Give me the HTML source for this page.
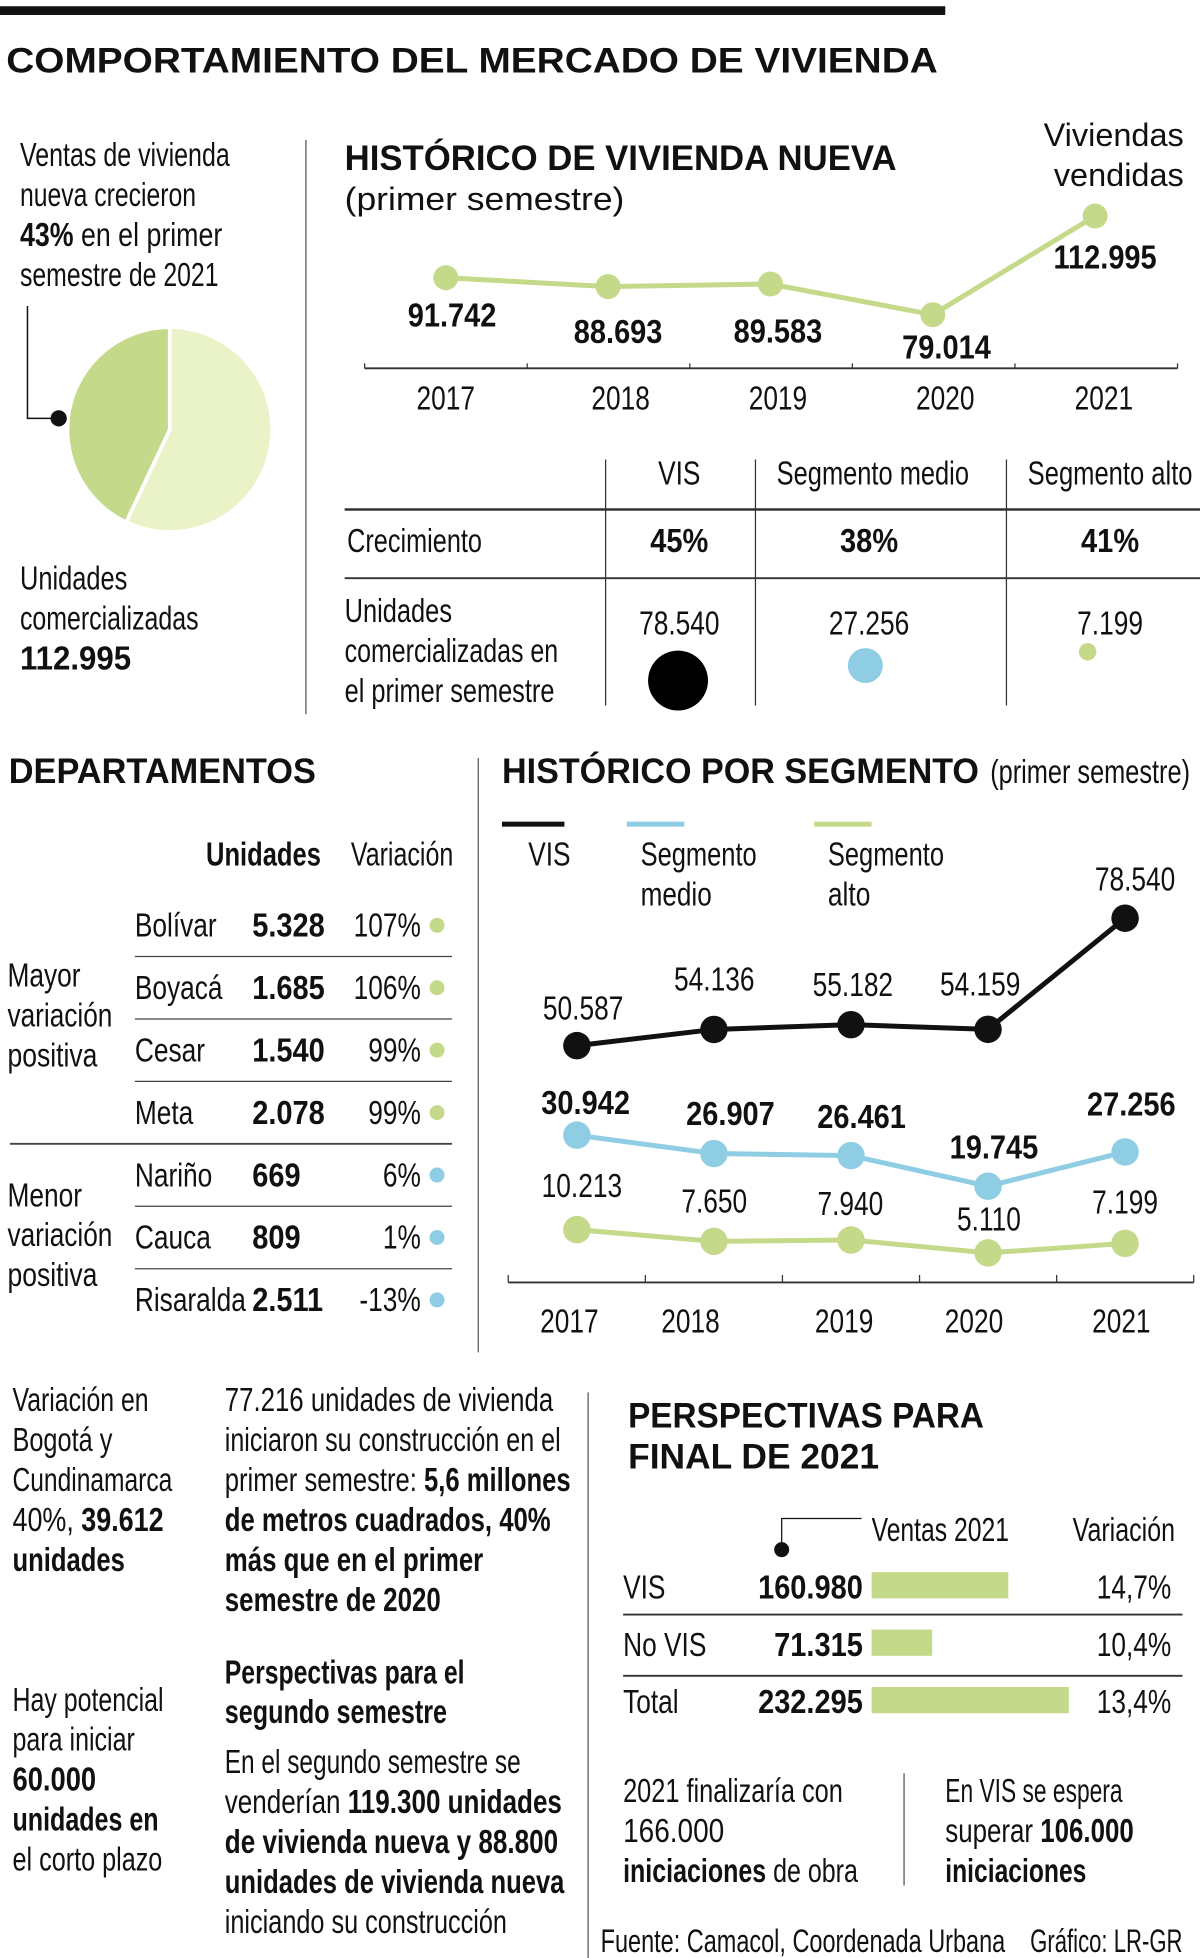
<!DOCTYPE html>
<html><head><meta charset="utf-8">
<style>
html,body{margin:0;padding:0;background:#fff;}
svg{display:block}
.c{font-family:"Liberation Sans Narrow","Liberation Sans",sans-serif;font-size:27px;fill:#111;}
.b{font-weight:bold}
.t{font-family:"Liberation Sans",sans-serif;font-weight:bold;font-size:28px;fill:#111;}
.r{font-family:"Liberation Sans",sans-serif;font-size:26px;fill:#111;}
.m{text-anchor:middle}
.e{text-anchor:end}
</style></head>
<body>
<svg id="root" width="1200" height="1958" viewBox="0 0 961 1568" preserveAspectRatio="none" xmlns="http://www.w3.org/2000/svg">
<rect x="0" y="5" width="757" height="7" fill="#111"/>
<text class="t" x="5" y="58" textLength="746" lengthAdjust="spacingAndGlyphs" font-size="31">COMPORTAMIENTO DEL MERCADO DE VIVIENDA</text>

<g>
<text class="c" x="16" y="133" textLength="168" lengthAdjust="spacingAndGlyphs">Ventas de vivienda</text>
<text class="c" x="16" y="165" textLength="141" lengthAdjust="spacingAndGlyphs">nueva crecieron</text>
<text class="c" x="16" y="197" textLength="162" lengthAdjust="spacingAndGlyphs"><tspan class="b">43%</tspan> en el primer</text>
<text class="c" x="16" y="229" textLength="159" lengthAdjust="spacingAndGlyphs">semestre de 2021</text>
</g>
<path d="M22 245 V335 H47" stroke="#111" stroke-width="1.2" fill="none"/>
<g id="pie"></g>
<circle cx="47" cy="335" r="6.5" fill="#111"/>
<text class="c" x="16" y="472" textLength="86" lengthAdjust="spacingAndGlyphs">Unidades</text>
<text class="c" x="16" y="504" textLength="143" lengthAdjust="spacingAndGlyphs">comercializadas</text>
<text class="c b" x="16" y="536" textLength="89" lengthAdjust="spacingAndGlyphs">112.995</text>
<line x1="245" y1="112" x2="245" y2="572" stroke="#555" stroke-width="1"/>

<text class="t" x="276" y="136" textLength="442" lengthAdjust="spacingAndGlyphs">HISTÓRICO DE VIVIENDA NUEVA</text>
<text class="r" x="276" y="168" textLength="224" lengthAdjust="spacingAndGlyphs">(primer semestre)</text>
<text class="r e" x="948" y="117" font-size="29">Viviendas</text>
<text class="r e" x="948" y="149" font-size="29">vendidas</text>
<g id="hist"></g>

<g>
<line x1="485" y1="368" x2="485" y2="565" stroke="#333"/>
<line x1="605" y1="368" x2="605" y2="565" stroke="#333"/>
<line x1="806" y1="368" x2="806" y2="565" stroke="#333"/>
<line x1="276" y1="408" x2="961" y2="408" stroke="#333" stroke-width="2"/>
<line x1="276" y1="463" x2="961" y2="463" stroke="#333" stroke-width="1.5"/>
<text class="c m" x="544" y="388">VIS</text>
<text class="c m" x="699" y="388" textLength="154" lengthAdjust="spacingAndGlyphs">Segmento medio</text>
<text class="c m" x="889" y="388" textLength="132" lengthAdjust="spacingAndGlyphs">Segmento alto</text>
<text class="c" x="278" y="442" textLength="108" lengthAdjust="spacingAndGlyphs">Crecimiento</text>
<text class="c b m" x="544" y="442">45%</text>
<text class="c b m" x="696" y="442">38%</text>
<text class="c b m" x="889" y="442">41%</text>
<text class="c" x="276" y="498" textLength="86" lengthAdjust="spacingAndGlyphs">Unidades</text>
<text class="c" x="276" y="530" textLength="171" lengthAdjust="spacingAndGlyphs">comercializadas en</text>
<text class="c" x="276" y="562" textLength="168" lengthAdjust="spacingAndGlyphs">el primer semestre</text>
<text class="c m" x="544" y="508" fill="#333">78.540</text>
<text class="c m" x="696" y="508" fill="#333">27.256</text>
<text class="c m" x="889" y="508" fill="#333">7.199</text>
<circle cx="543" cy="545" r="24" fill="#000"/>
<circle cx="693" cy="533" r="14" fill="#8ecde3"/>
<circle cx="871" cy="522" r="7" fill="#c5d98a"/>
</g>

<text class="t" x="7" y="627" textLength="246" lengthAdjust="spacingAndGlyphs">DEPARTAMENTOS</text>
<line x1="383" y1="607" x2="383" y2="1083" stroke="#555"/>
<text class="c m" x="211" y="693" textLength="92" lengthAdjust="spacingAndGlyphs" font-weight="600">Unidades</text>
<text class="c m" x="322" y="693" textLength="82" lengthAdjust="spacingAndGlyphs">Variación</text>
<text class="c" x="6" y="790">Mayor</text>
<text class="c" x="6" y="822" textLength="84" lengthAdjust="spacingAndGlyphs">variación</text>
<text class="c" x="6" y="854" textLength="72" lengthAdjust="spacingAndGlyphs">positiva</text>
<text class="c" x="6" y="966">Menor</text>
<text class="c" x="6" y="998" textLength="84" lengthAdjust="spacingAndGlyphs">variación</text>
<text class="c" x="6" y="1030" textLength="72" lengthAdjust="spacingAndGlyphs">positiva</text>
<g id="dept"></g>

<text class="t" x="402" y="627" textLength="382" lengthAdjust="spacingAndGlyphs">HISTÓRICO POR SEGMENTO</text>
<text class="c" x="793" y="627" textLength="160" lengthAdjust="spacingAndGlyphs">(primer semestre)</text>
<g>
<rect x="402" y="658" width="50" height="4" fill="#111"/>
<rect x="502" y="658" width="46" height="4" fill="#8ecde3"/>
<rect x="652" y="658" width="46" height="4" fill="#c5d98a"/>
<text class="c" x="423" y="693">VIS</text>
<text class="c" x="513" y="693" textLength="93" lengthAdjust="spacingAndGlyphs">Segmento</text>
<text class="c" x="513" y="725" textLength="57" lengthAdjust="spacingAndGlyphs">medio</text>
<text class="c" x="663" y="693" textLength="93" lengthAdjust="spacingAndGlyphs">Segmento</text>
<text class="c" x="663" y="725" textLength="34" lengthAdjust="spacingAndGlyphs">alto</text>
</g>
<g id="seg"></g>

<g>
<text class="c" x="10" y="1130" textLength="109" lengthAdjust="spacingAndGlyphs">Variación en</text>
<text class="c" x="10" y="1162" textLength="80" lengthAdjust="spacingAndGlyphs">Bogotá y</text>
<text class="c" x="10" y="1194" textLength="128" lengthAdjust="spacingAndGlyphs">Cundinamarca</text>
<text class="c" x="10" y="1226" textLength="121" lengthAdjust="spacingAndGlyphs">40%, <tspan class="b">39.612</tspan></text>
<text class="c b" x="10" y="1258" textLength="90" lengthAdjust="spacingAndGlyphs">unidades</text>
</g>
<g>
<text class="c" x="10" y="1370" textLength="121" lengthAdjust="spacingAndGlyphs">Hay potencial</text>
<text class="c" x="10" y="1402" textLength="98" lengthAdjust="spacingAndGlyphs">para iniciar</text>
<text class="c b" x="10" y="1434" textLength="67" lengthAdjust="spacingAndGlyphs">60.000</text>
<text class="c b" x="10" y="1466" textLength="117" lengthAdjust="spacingAndGlyphs">unidades en</text>
<text class="c" x="10" y="1498" textLength="120" lengthAdjust="spacingAndGlyphs">el corto plazo</text>
</g>
<g>
<text class="c" x="180" y="1130" textLength="263" lengthAdjust="spacingAndGlyphs">77.216 unidades de vivienda</text>
<text class="c" x="180" y="1162" textLength="269" lengthAdjust="spacingAndGlyphs">iniciaron su construcción en el</text>
<text class="c" x="180" y="1194" textLength="277" lengthAdjust="spacingAndGlyphs">primer semestre: <tspan class="b">5,6 millones</tspan></text>
<text class="c b" x="180" y="1226" textLength="261" lengthAdjust="spacingAndGlyphs">de metros cuadrados, 40%</text>
<text class="c b" x="180" y="1258" textLength="207" lengthAdjust="spacingAndGlyphs">más que en el primer</text>
<text class="c b" x="180" y="1290" textLength="173" lengthAdjust="spacingAndGlyphs">semestre de 2020</text>
</g>
<g>
<text class="c" x="180" y="1348" textLength="192" lengthAdjust="spacingAndGlyphs" font-weight="600">Perspectivas para el</text>
<text class="c" x="180" y="1380" textLength="178" lengthAdjust="spacingAndGlyphs" font-weight="600">segundo semestre</text>
<text class="c" x="180" y="1420" textLength="237" lengthAdjust="spacingAndGlyphs">En el segundo semestre se</text>
<text class="c" x="180" y="1452" textLength="270" lengthAdjust="spacingAndGlyphs">venderían <tspan class="b">119.300 unidades</tspan></text>
<text class="c b" x="180" y="1484" textLength="267" lengthAdjust="spacingAndGlyphs">de vivienda nueva y 88.800</text>
<text class="c b" x="180" y="1516" textLength="272" lengthAdjust="spacingAndGlyphs">unidades de vivienda nueva</text>
<text class="c" x="180" y="1548" textLength="226" lengthAdjust="spacingAndGlyphs">iniciando su construcción</text>
</g>
<line x1="471" y1="1115" x2="471" y2="1568" stroke="#555"/>

<text class="t" x="503" y="1143" textLength="285" lengthAdjust="spacingAndGlyphs">PERSPECTIVAS PARA</text>
<text class="t" x="503" y="1176" textLength="201" lengthAdjust="spacingAndGlyphs">FINAL DE 2021</text>
<path d="M626 1241 V1216 H690" stroke="#111" fill="none"/>
<circle cx="626" cy="1241" r="6" fill="#111"/>
<text class="c" x="698" y="1234" textLength="110" lengthAdjust="spacingAndGlyphs">Ventas 2021</text>
<text class="c m" x="900" y="1234" textLength="82" lengthAdjust="spacingAndGlyphs">Variación</text>
<g id="persp"></g>
<g>
<text class="c" x="499" y="1443" textLength="176" lengthAdjust="spacingAndGlyphs">2021 finalizaría con</text>
<text class="c" x="499" y="1475" textLength="81" lengthAdjust="spacingAndGlyphs">166.000</text>
<text class="c" x="499" y="1507" textLength="188" lengthAdjust="spacingAndGlyphs"><tspan class="b">iniciaciones</tspan> de obra</text>
<line x1="724" y1="1420" x2="724" y2="1510" stroke="#555"/>
<text class="c" x="757" y="1443" textLength="142" lengthAdjust="spacingAndGlyphs">En VIS se espera</text>
<text class="c" x="757" y="1475" textLength="151" lengthAdjust="spacingAndGlyphs">superar <tspan class="b">106.000</tspan></text>
<text class="c b" x="757" y="1507" textLength="113" lengthAdjust="spacingAndGlyphs">iniciaciones</text>
</g>
<text class="r" x="481" y="1563" font-size="19" fill="#333" textLength="324" lengthAdjust="spacingAndGlyphs">Fuente: Camacol, Coordenada Urbana</text>
<text class="r e" x="947" y="1563" font-size="19" fill="#333" textLength="122" lengthAdjust="spacingAndGlyphs">Gráfico: LR-GR</text>
</svg>
<script>
const NS='http://www.w3.org/2000/svg';
const pieShares=[43,57];
const histYears=['2017','2018','2019','2020','2021'];
const histValues=[91742,88693,89583,79014,112995];
const histLabels=['91.742','88.693','89.583','79.014','112.995'];
const segYears=['2017','2018','2019','2020','2021'];
const visValues=[50587,54136,55182,54159,78540];
const medioValues=[30942,26907,26461,19745,27256];
const altoValues=[10213,7650,7940,5110,7199];
const visLabels=['50.587','54.136','55.182','54.159','78.540'];
const medioLabels=['30.942','26.907','26.461','19.745','27.256'];
const altoLabels=['10.213','7.650','7.940','5.110','7.199'];
const deptNames=['Bolívar','Boyacá','Cesar','Meta','Nariño','Cauca','Risaralda'];
const deptUnits=['5.328','1.685','1.540','2.078','669','809','2.511'];
const deptVar=['107%','106%','99%','99%','6%','1%','-13%'];
const deptGroup=['mayor','mayor','mayor','mayor','menor','menor','menor'];
const perspCats=['VIS','No VIS','Total'];
const perspValues=[160980,71315,232295];
const perspValueLabels=['160.980','71.315','232.295'];
const perspVar=['14,7%','10,4%','13,4%'];

function mk(tag,attrs,parent,text){const e=document.createElementNS(NS,tag);for(const k in attrs)e.setAttribute(k,attrs[k]);if(text!==undefined)e.textContent=text;parent.appendChild(e);return e;}

(function(){
  const g=document.getElementById('pie');const cx=136,cy=344,r=82;
  const total=pieShares.reduce((a,b)=>a+b,0);
  const a1=-pieShares[0]/total*2*Math.PI;
  const px=cx+r*Math.sin(a1),py=cy-r*Math.cos(a1);
  let p=mk('path',{d:`M${cx} ${cy} L${cx} ${cy-r} A${r} ${r} 0 0 0 ${px} ${py} Z`,fill:'#c5d98a',stroke:'#fff','stroke-width':3},g);
  
  
  let q=mk('path',{d:`M${cx} ${cy} L${px} ${py} A${r} ${r} 0 ${pieShares[1]/total>0.5?1:0} 0 ${cx} ${cy-r} Z`,fill:'#eaf2c8',stroke:'#fff','stroke-width':3},g);
  
  
})();

(function(){
  const g=document.getElementById('hist');
  const x=i=>357+i*130;
  const y=v=>252-(v-79014)*0.002325;
  const ax=mk('line',{x1:292,y1:295,x2:943,y2:295,stroke:'#333','stroke-width':1.5},g);
  
  
  for(let i=0;i<6;i++){const t=mk('line',{x1:292+i*130.2,y1:291,x2:292+i*130.2,y2:295,stroke:'#333'},g);
    
    }
  const ln=mk('polyline',{points:histValues.map((v,i)=>x(i)+','+y(v)).join(' '),fill:'none',stroke:'#c5d98a','stroke-width':4},g);
  
  
  const lx=[362,495,623,758,885];const loff=[39,45,47,35,-4];
  histValues.forEach((v,i)=>{
    const c=mk('circle',{cx:x(i),cy:y(v),r:10,fill:'#c5d98a'},g);
    
    
    const t=mk('text',{class:'c b m',x:lx[i],y:y(v)+loff[i]+(i==4?46:0)},g,histLabels[i]);
    
    
    const yl=mk('text',{class:'c m',x:[357,497,623,757,884][i],y:328,fill:'#333'},g,histYears[i]);
    
    
  });
})();

(function(){
  const g=document.getElementById('dept');
  deptNames.forEach((n,i)=>{
    const by=750+i*50;
    const a=mk('text',{class:'c',x:108,y:by},g,n);
    
    
    const b=mk('text',{class:'c',x:202,y:by,'font-weight':'600'},g,deptUnits[i]);
    
    
    const c=mk('text',{class:'c e',x:337,y:by},g,deptVar[i]);
    
    
    const d=mk('circle',{cx:350,cy:by-9,r:6,fill:deptGroup[i]==='mayor'?'#c5d98a':'#8ecde3'},g);
    
    
    if(i<6){const x1=(i===3)?8:108;const l=mk('line',{x1:x1,y1:by+16,x2:362,y2:by+16,stroke:'#444','stroke-width':i===3?1.5:1},g);
      
      }
  });
})();

(function(){
  const g=document.getElementById('seg');
  const x=i=>462+i*109.75;
  const y=v=>1022-v*0.00365;
  const ax=mk('line',{x1:407,y1:1027,x2:956,y2:1027,stroke:'#333','stroke-width':1.5},g);
  
  
  for(let i=0;i<6;i++){const t=mk('line',{x1:407+i*109.8,y1:1021,x2:407+i*109.8,y2:1027,stroke:'#333'},g);
    
    }
  const series=[[visValues,visLabels,'#111','vis',[-21,-31,-23,-27,-22],[467,572,683,785,909],''],
                [medioValues,medioLabels,'#8ecde3','medio',[-17,-23,-22,-22,-29],[469,585,690,796,906],'b'],
                [altoValues,altoLabels,'#c5d98a','alto',[-26,-23,-20,-18,-24],[466,572,681,792,901],'']];
  series.forEach(s=>{
    const [vals,labs,col,nm,off,lx,bold]=s;
    const l=mk('polyline',{points:vals.map((v,i)=>x(i)+','+y(v)).join(' '),fill:'none',stroke:col,'stroke-width':4},g);
    
    
    vals.forEach((v,i)=>{
      const c=mk('circle',{cx:x(i),cy:y(v),r:11,fill:col},g);
      
      
      const t=mk('text',{class:'c m'+(bold?' b':''),x:lx[i],y:y(v)+off[i],fill:bold?'#111':'#333'},g,labs[i]);
      
      
    });
  });
  segYears.forEach((yr,i)=>{
    const t=mk('text',{class:'c m',x:[456,553,676,780,898][i],y:1067,fill:'#333'},g,yr);
    
    
  });
})();

(function(){
  const g=document.getElementById('persp');
  const w=v=>v*0.00068;
  perspCats.forEach((c,i)=>{
    const by=1280+i*46;
    const a=mk('text',{class:'c',x:499,y:by},g,c);
    
    
    const b=mk('text',{class:'c b e',x:691,y:by},g,perspValueLabels[i]);
    
    
    const r=mk('rect',{x:698,y:by-21,width:w(perspValues[i]),height:21,fill:'#c5d98a'},g);
    
    
    const v=mk('text',{class:'c e',x:938,y:by},g,perspVar[i]);
    
    
    if(i<2){const l=mk('line',{x1:499,y1:by+13+i*3,x2:947,y2:by+13+i*3,stroke:'#333','stroke-width':1.5},g);
      
      }
  });
})();

document.querySelectorAll('text.c').forEach(t=>{
  if(!t.hasAttribute('textLength')){
    const L=t.getComputedTextLength();
    const bold=t.classList.contains('b')||t.getAttribute('font-weight')==='600';
    t.setAttribute('textLength',(L*(bold?0.86:0.78)).toFixed(1));
    t.setAttribute('lengthAdjust','spacingAndGlyphs');
  }
});
</script>
</body></html>
